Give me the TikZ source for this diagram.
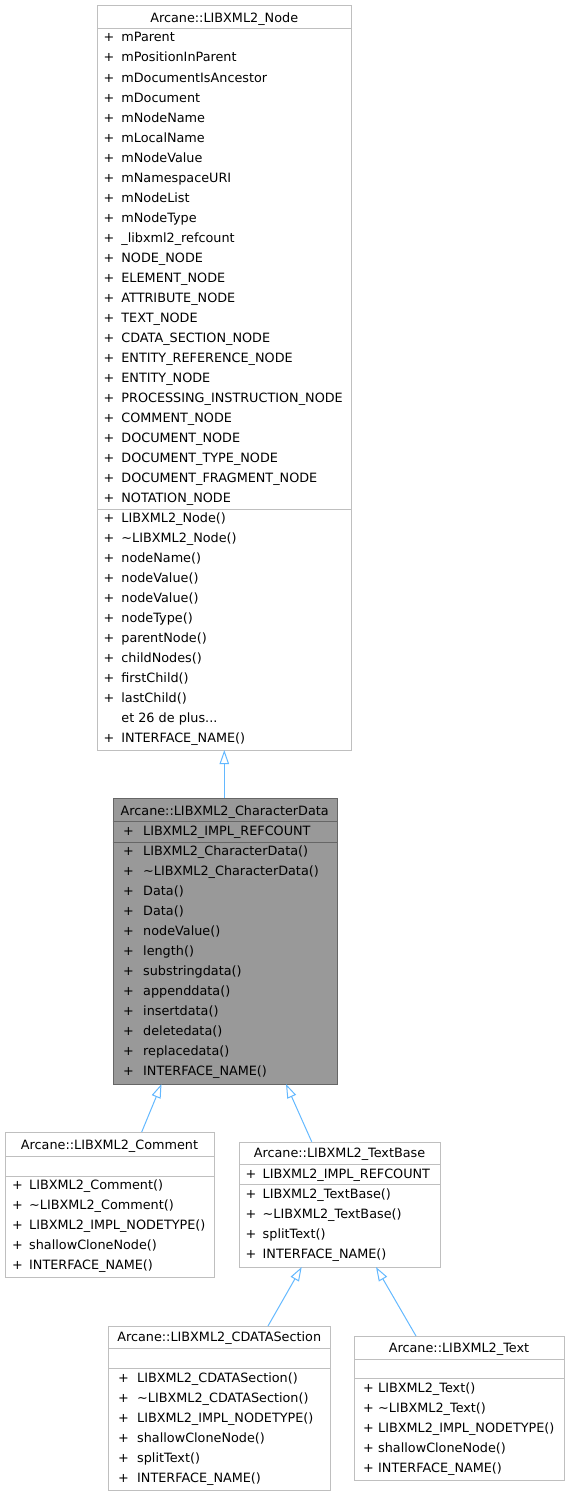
\documentclass[tikz,border=0pt]{standalone}
\usepackage{fontspec}
\setmainfont{DejaVu Sans}
\usetikzlibrary{arrows.meta}
\definecolor{edgeblue}{HTML}{63B8FF}
\definecolor{boxgray}{HTML}{BFBFBF}
\definecolor{hifill}{HTML}{999999}
\definecolor{hiline}{HTML}{666666}
\begin{document}
\begin{tikzpicture}[x=1pt,y=-1pt,
  every node/.style={font=\fontsize{12.8pt}{15pt}\selectfont},
  box/.style={draw=boxgray, fill=white, line width=1pt, inner sep=0pt, anchor=north west},
  hibox/.style={draw=hiline, fill=hifill, line width=1pt, inner sep=0pt, anchor=north west},
  sep/.style={draw=boxgray, line width=1pt},
  hisep/.style={draw=hiline, line width=1pt},
  txt/.style={inner sep=0pt, anchor=base west},
  ttl/.style={inner sep=0pt, anchor=base},
  inherit/.style={draw=edgeblue, line width=1pt, -{Triangle[length=14pt, width=9.4pt, fill=white]}}
]
\useasboundingbox (0,0) rectangle (569,1496);

% ---------------- LIBXML2_Node ----------------
\node[box, minimum width=253.7pt, minimum height=745pt] (nodebox) at (97.3,5) {};
\draw[sep] (97.3,28.3) -- (351,28.3);
\draw[sep] (97.3,509) -- (351,509);
\node[ttl] (nodetitle) at (224.2,22.5) {Arcane::LIBXML2\_Node};
\foreach \t [count=\i from 0] in {mParent, mPositionInParent, mDocumentIsAncestor, mDocument, mNodeName, mLocalName, mNodeValue, mNamespaceURI, mNodeList, mNodeType, \_libxml2\_refcount, NODE\_NODE, ELEMENT\_NODE, ATTRIBUTE\_NODE, TEXT\_NODE, CDATA\_SECTION\_NODE, ENTITY\_REFERENCE\_NODE, ENTITY\_NODE, PROCESSING\_INSTRUCTION\_NODE, COMMENT\_NODE, DOCUMENT\_NODE, DOCUMENT\_TYPE\_NODE, DOCUMENT\_FRAGMENT\_NODE, NOTATION\_NODE}{
  \node[txt] (nap\i) at (103.5,42+20*\i) {+};
  \node[txt] (nan\i) at (121.2,42+20*\i) {\t};
}
\foreach \t [count=\i from 0] in {LIBXML2\_Node(), \textasciitilde LIBXML2\_Node(), nodeName(), nodeValue(), nodeValue(), nodeType(), parentNode(), childNodes(), firstChild(), lastChild()}{
  \node[txt] (nmp\i) at (103.5,522+20*\i) {+};
  \node[txt] (nmn\i) at (121.2,522+20*\i) {\t};
}
\node[txt] (nmore) at (121.2,722) {et 26 de plus...};
\node[txt] (nlastp) at (103.5,742) {+};
\node[txt] (nlastn) at (121.2,742) {INTERFACE\_NAME()};

% ---------------- LIBXML2_CharacterData ----------------
\node[hibox, minimum width=224pt, minimum height=285.7pt] (cdbox) at (112.7,798.3) {};
\draw[hisep] (112.7,821.7) -- (336.7,821.7);
\draw[hisep] (112.7,842) -- (336.7,842);
\node[ttl] (cdtitle) at (224.7,815) {Arcane::LIBXML2\_CharacterData};
\node[txt] (cdap) at (123,835) {+};
\node[txt] (cdan) at (143,835) {LIBXML2\_IMPL\_REFCOUNT};
\foreach \t [count=\i from 0] in {LIBXML2\_CharacterData(), \textasciitilde LIBXML2\_CharacterData(), Data(), Data(), nodeValue(), length(), substringdata(), appenddata(), insertdata(), deletedata(), replacedata(), INTERFACE\_NAME()}{
  \node[txt] (cdmp\i) at (123,855+20*\i) {+};
  \node[txt] (cdmn\i) at (143,855+20*\i) {\t};
}

% ---------------- LIBXML2_Comment ----------------
\node[box, minimum width=209pt, minimum height=145pt] (combox) at (5,1132) {};
\draw[sep] (5,1156) -- (214,1156);
\draw[sep] (5,1176) -- (214,1176);
\node[ttl] (comtitle) at (109.5,1149) {Arcane::LIBXML2\_Comment};
\foreach \t [count=\i from 0] in {LIBXML2\_Comment(), \textasciitilde LIBXML2\_Comment(), LIBXML2\_IMPL\_NODETYPE(), shallowCloneNode(), INTERFACE\_NAME()}{
  \node[txt] (cmp\i) at (12,1189+20*\i) {+};
  \node[txt] (cmn\i) at (29,1189+20*\i) {\t};
}

% ---------------- LIBXML2_TextBase ----------------
\node[box, minimum width=201pt, minimum height=125.3pt] (tbbox) at (239,1141.7) {};
\draw[sep] (239,1164) -- (440,1164);
\draw[sep] (239,1184) -- (440,1184);
\node[ttl] (tbtitle) at (339.5,1157.7) {Arcane::LIBXML2\_TextBase};
\node[txt] (tbap) at (245.5,1178) {+};
\node[txt] (tban) at (262.5,1178) {LIBXML2\_IMPL\_REFCOUNT};
\foreach \t [count=\i from 0] in {LIBXML2\_TextBase(), \textasciitilde LIBXML2\_TextBase(), splitText(), INTERFACE\_NAME()}{
  \node[txt] (tbmp\i) at (245.5,1198+20*\i) {+};
  \node[txt] (tbmn\i) at (262.5,1198+20*\i) {\t};
}

% ---------------- LIBXML2_CDATASection ----------------
\node[box, minimum width=221.7pt, minimum height=164pt] (cdsbox) at (108.3,1326) {};
\draw[sep] (108.3,1348) -- (330,1348);
\draw[sep] (108.3,1368) -- (330,1368);
\node[ttl] (cdstitle) at (219.2,1341.7) {Arcane::LIBXML2\_CDATASection};
\foreach \t [count=\i from 0] in {LIBXML2\_CDATASection(), \textasciitilde LIBXML2\_CDATASection(), LIBXML2\_IMPL\_NODETYPE(), shallowCloneNode(), splitText(), INTERFACE\_NAME()}{
  \node[txt] (csmp\i) at (118,1382+20*\i) {+};
  \node[txt] (csmn\i) at (137,1382+20*\i) {\t};
}

% ---------------- LIBXML2_Text ----------------
\node[box, minimum width=210pt, minimum height=144pt] (txbox) at (354,1336) {};
\draw[sep] (354,1359) -- (564,1359);
\draw[sep] (354,1378) -- (564,1378);
\node[ttl] (txtitle) at (459,1352) {Arcane::LIBXML2\_Text};
\foreach \t [count=\i from 0] in {LIBXML2\_Text(), \textasciitilde LIBXML2\_Text(), LIBXML2\_IMPL\_NODETYPE(), shallowCloneNode(), INTERFACE\_NAME()}{
  \node[txt] (txmp\i) at (363,1392+20*\i) {+};
  \node[txt] (txmn\i) at (378,1392+20*\i) {\t};
}

% ---------------- edge end points ----------------
\coordinate (cdtop) at (224.3,798.3);
\coordinate (nodebot) at (224.3,750);
\coordinate (comtop) at (141.7,1132);
\coordinate (cdbotl) at (161.5,1084);
\coordinate (tbtop) at (311.7,1141.7);
\coordinate (cdbotr) at (286,1084);
\coordinate (cdstop) at (268,1326);
\coordinate (tbbotl) at (301.7,1267);
\coordinate (txtop) at (416,1336);
\coordinate (tbbotr) at (376,1267);

\draw[inherit] (cdtop) -- (nodebot);
\draw[inherit] (comtop) -- (cdbotl);
\draw[inherit] (tbtop) -- (cdbotr);
\draw[inherit] (cdstop) -- (tbbotl);
\draw[inherit] (txtop) -- (tbbotr);
\end{tikzpicture}
\end{document}
